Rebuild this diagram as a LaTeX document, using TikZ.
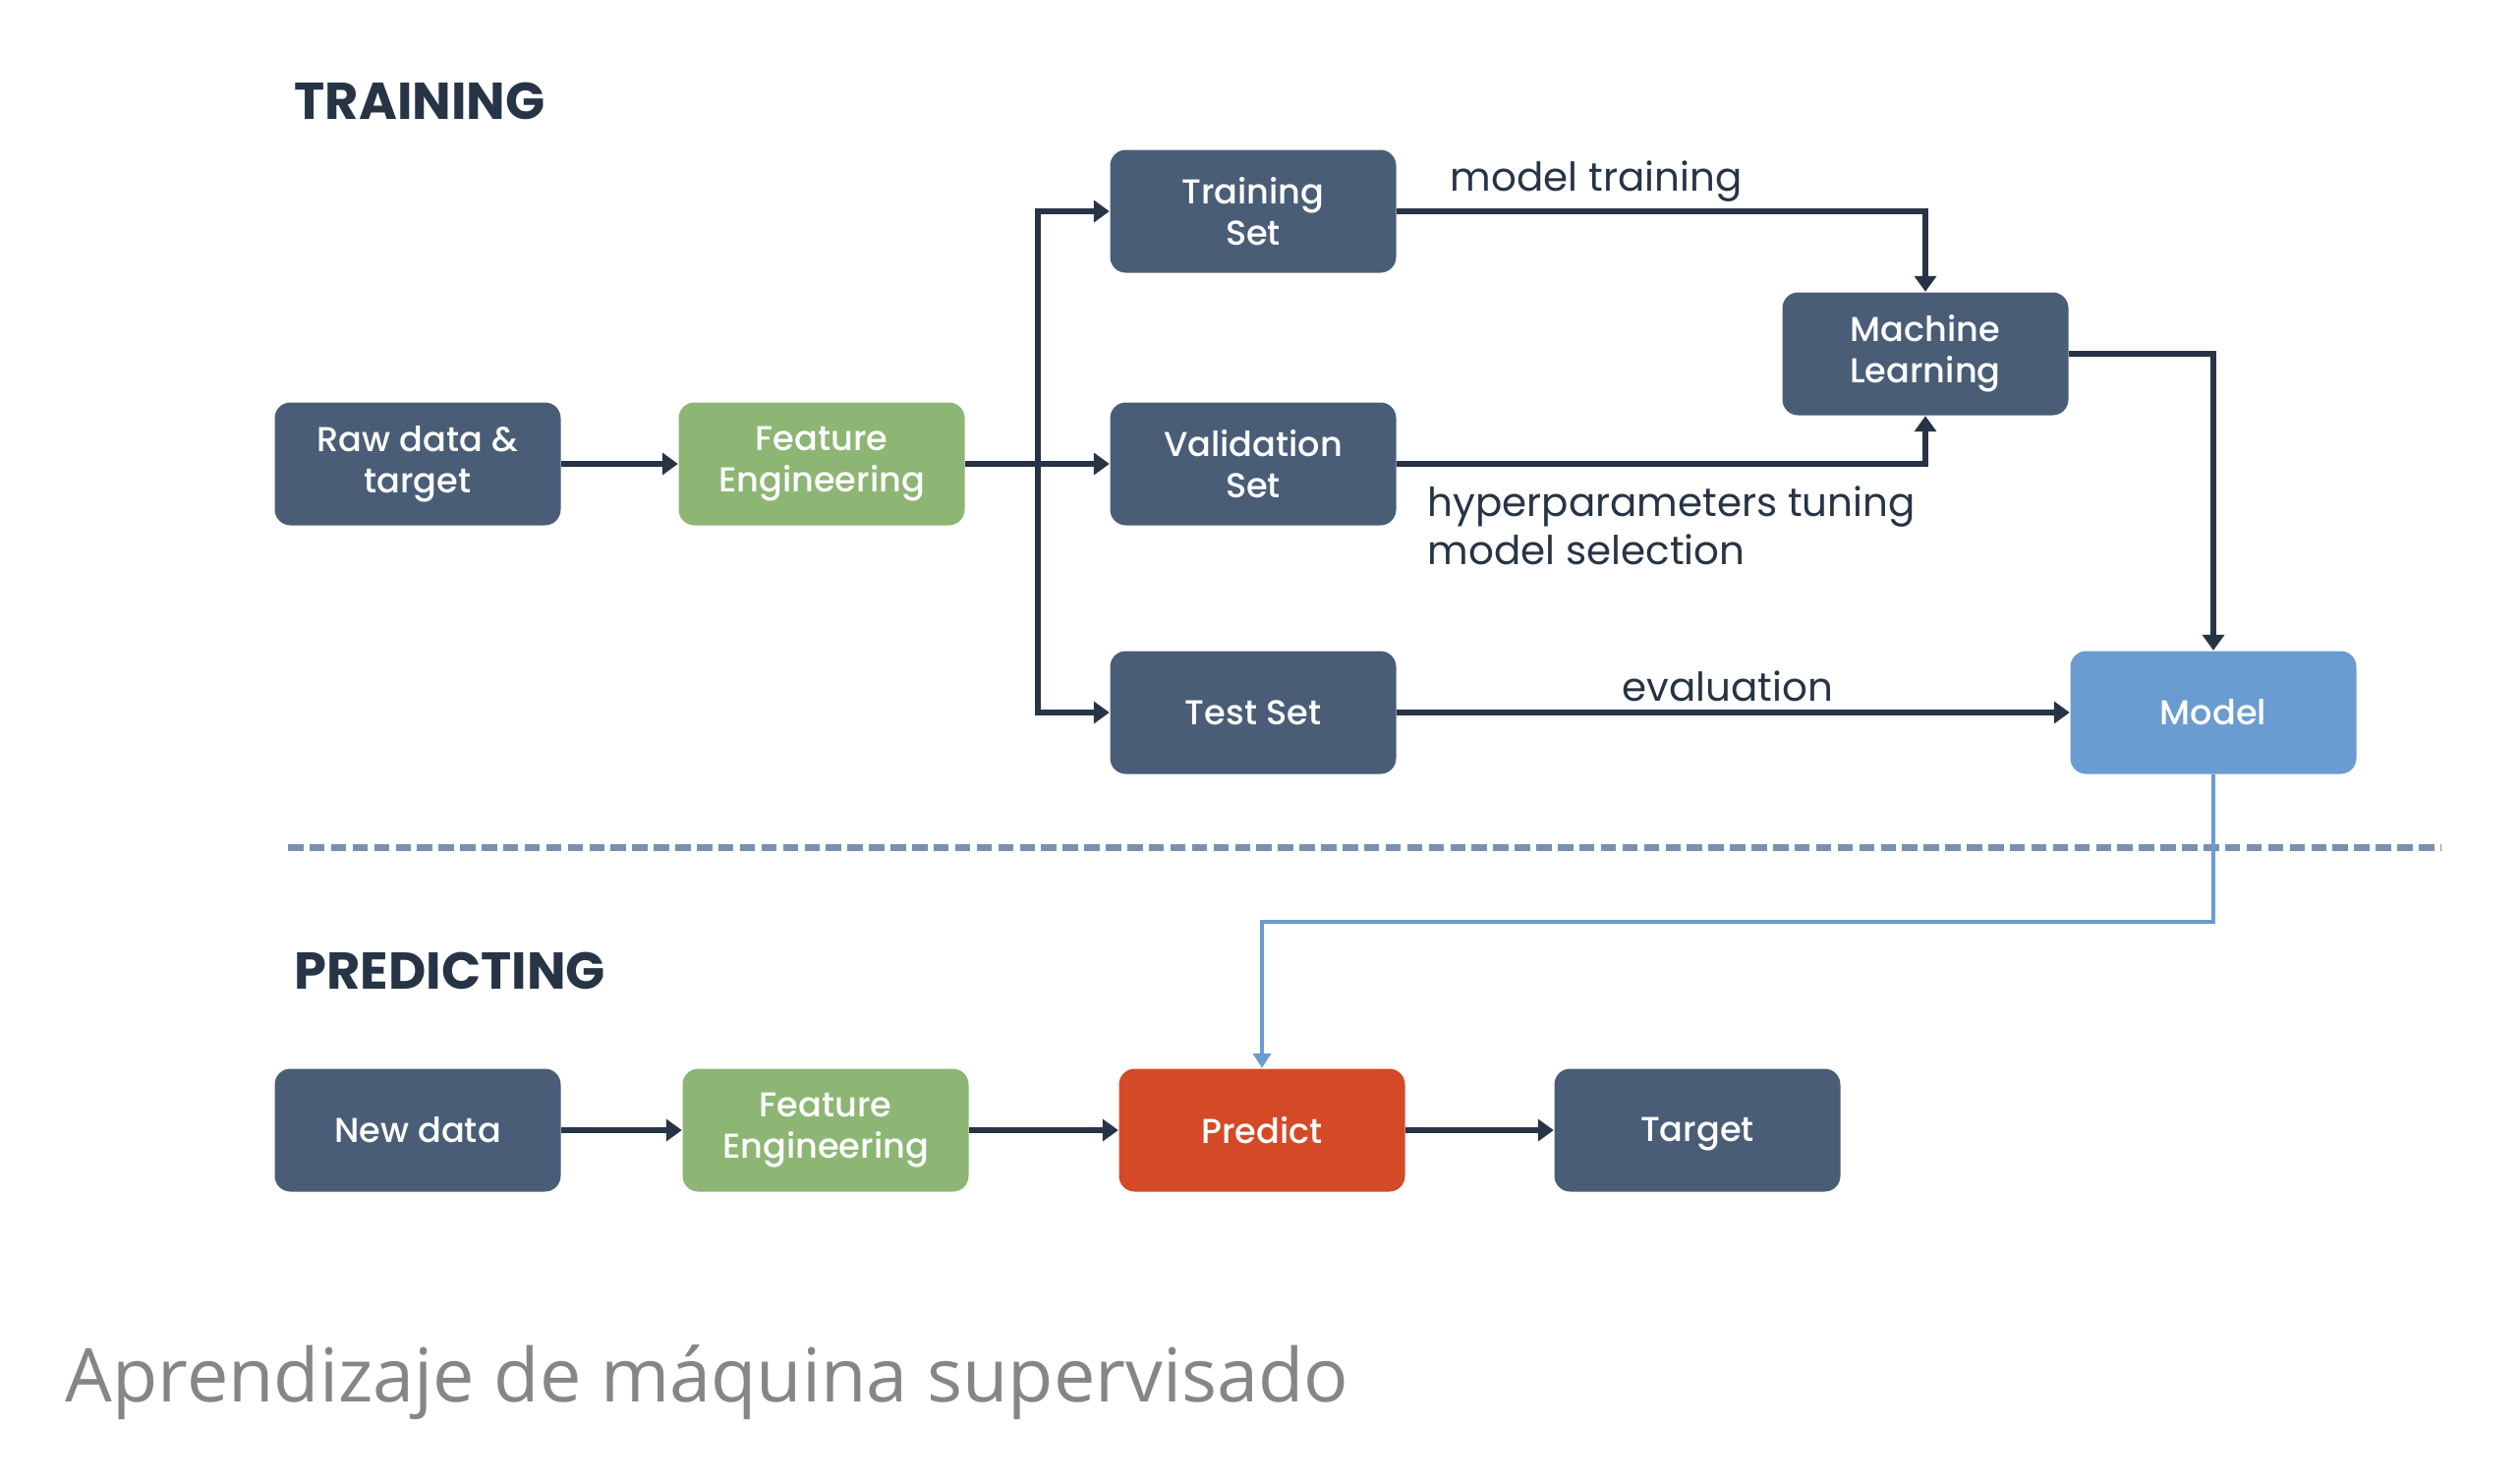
\documentclass[tikz,border=0pt]{standalone}
\usepackage{fontspec}
\setmainfont{Poppins}
\newfontfamily\boxfont{Poppins Medium}
\newfontfamily\captionfont{Open Sans}
\usetikzlibrary{arrows.meta}
\definecolor{slate}{HTML}{4A5D77}
\definecolor{leaf}{HTML}{8DB573}
\definecolor{sky}{HTML}{6A9BD1}
\definecolor{brick}{HTML}{D44A26}
\definecolor{ink}{HTML}{263445}
\definecolor{dashblue}{HTML}{7A90AD}
\tikzset{%
    blk/.style={rounded corners=0.16cm,minimum width=2.91cm,minimum height=1.25cm,
        fill=slate,text=white,align=center,font=\boxfont\fontsize{10}{12}\selectfont,inner sep=0pt},
    flow/.style={draw=ink,line width=1.7pt,-{Triangle[length=1.6mm,width=2.2mm]}},
    lbl/.style={text=ink,font=\fontsize{11.5}{14}\selectfont,inner sep=0pt},
    hdr/.style={text=ink,font=\fontsize{15}{18}\selectfont\bfseries,inner sep=0pt,anchor=west}
}
\begin{document}
\begin{tikzpicture}[x=0.1mm,y=-0.1mm]
        \useasboundingbox (0,0) rectangle (2564,1508);
        \node[hdr] (ttl) at (299,103) {TRAINING};
        \node[hdr] (ptl) at (299,988) {PREDICTING};

        \node[blk] (raw) at (425,472) {Raw data \&\\target};
        \node[blk,fill=leaf] (fe1) at (836,472) {Feature\\Engineering};
        \node[blk] (trs) at (1275,215) {Training\\Set};
        \node[blk] (vas) at (1275,472) {Validation\\Set};
        \node[blk] (tes) at (1275,725) {Test Set};
        \node[blk] (ml) at (1959,360) {Machine\\Learning};
        \node[blk,fill=sky] (mdl) at (2252,725) {Model};

        \node[blk] (new) at (425,1150) {New data};
        \node[blk,fill=leaf] (fe2) at (840,1150) {Feature\\Engineering};
        \node[blk,fill=brick] (prd) at (1284,1150) {Predict};
        \node[blk,text depth=0.1ex] (tgt) at (1727,1150) {Target};

        \coordinate (fork) at (1056,472);
        \draw[flow] (raw) -- (fe1);
        \draw[flow] (fe1) -- (vas);
        \draw[flow] (fork) |- (trs);
        \draw[flow] (fork) |- (tes);
        \draw[flow] (trs) -| (ml);
        \draw[flow] (vas) -| (ml);
        \draw[flow] (ml) -| (mdl);
        \draw[flow] (tes) -- (mdl);

        \node[lbl,anchor=west] (lmt) at (1475,185) {model training};
        \node[lbl,anchor=north west,align=left] (lhp) at (1452,494) {hyperparameters tuning\\model selection};
        \node[lbl] (lev) at (1758,698) {evaluation};

        \coordinate (dl) at (293,862);
        \coordinate (dr) at (2484,862);
        \draw[dashblue,line width=0.07cm,dash pattern=on 0.155cm off 0.064cm] (dl) -- (dr);

        \coordinate (bend) at (2252,938);
        \draw[sky,line width=1.2pt,-{Triangle[length=1.5mm,width=1.8mm]}] (mdl) -- (bend) -| (prd);

        \draw[flow] (new) -- (fe2);
        \draw[flow] (fe2) -- (prd);
        \draw[flow] (prd) -- (tgt);

        \node[anchor=west,inner sep=0pt,text=gray!95,font=\captionfont\fontsize{21.5}{26}\selectfont] (cap) at (66,1407) {Aprendizaje de máquina supervisado};
    \end{tikzpicture}
\end{document}
